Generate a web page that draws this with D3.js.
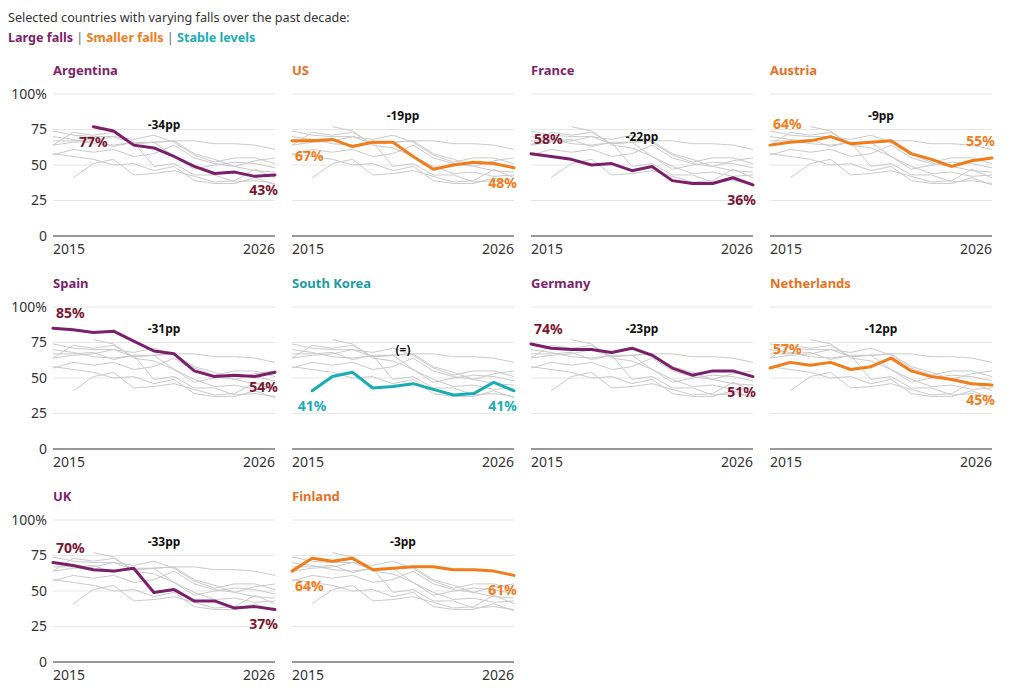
<!DOCTYPE html>
<html>
<head>
<meta charset="utf-8">
<script src="https://cdn.jsdelivr.net/npm/d3@7"></script>
<style>
  body { margin: 0; background: #fff; font-family: "Noto Sans", "Open Sans", sans-serif; }
  svg text { font-family: "Noto Sans", "Open Sans", sans-serif; }
</style>
</head>
<body>
<svg width="1024" height="690"></svg>
<script>
// years on the x axis
var years = [2015, 2016, 2017, 2018, 2019, 2020, 2021, 2022, 2023, 2024, 2025, 2026];

// panels, in reading order
var countries = ["Argentina", "US", "France", "Austria", "Spain", "South Korea", "Germany", "Netherlands", "UK", "Finland"];
var groups    = ["large", "smaller", "large", "smaller", "large", "stable", "large", "smaller", "large", "smaller"];

// share in % per year (null = no data)
var argentina   = [null, null, 77, 74, 64, 62, 56, 49, 44, 45, 42, 43];
var us          = [67, 67, 68, 63, 66, 66, 56, 47, 50, 52, 51, 48];
var france      = [58, 56, 54, 50, 51, 46, 49, 39, 37, 37, 41, 36];
var austria     = [64, 66, 67, 70, 65, 66, 67, 58, 54, 49, 53, 55];
var spain       = [85, 84, 82, 83, 76, 69, 67, 55, 51, 52, 51, 54];
var southKorea  = [null, 41, 51, 54, 43, 44, 46, 42, 38, 39, 47, 41];
var germany     = [74, 71, 70, 70, 68, 71, 66, 57, 52, 55, 55, 51];
var netherlands = [57, 61, 59, 61, 56, 58, 64, 55, 51, 49, 46, 45];
var uk          = [70, 68, 65, 64, 66, 49, 51, 43, 43, 38, 39, 37];
var finland     = [64, 73, 71, 73, 65, 66, 67, 67, 65, 65, 64, 61];

var series = [argentina, us, france, austria, spain, southKorea, germany, netherlands, uk, finland];

// countries drawn as grey context lines (Spain is not among them in the original)
var contextCountries = ["Argentina", "US", "France", "Austria", "South Korea", "Germany", "Netherlands", "UK", "Finland"];

var yTicks = [0, 25, 50, 75, 100];

var colors = {
  large:   { line: "#7b1f6a", label: "#7a1530", title: "#7d1f6b" },
  smaller: { line: "#f07c1a", label: "#f07c1a", title: "#e8701e" },
  stable:  { line: "#1aacb5", label: "#1aacb5", title: "#1a9ba0" }
};

// label placement tweaks (above/below the line end points, height of the pp note)
var startAbove = { "France": 10, "Austria": 16, "Spain": 10, "Germany": 10, "Netherlands": 14, "UK": 10 };
var endAbove = { "Austria": 12 };
var noteLevel = { "Argentina": 78, "France": 70, "South Korea": 70 };

var svg = d3.select("svg");

// header
svg.append("text")
    .attr("x", 8).attr("y", 22)
    .attr("font-size", 12.6).attr("fill", "#333")
    .text("Selected countries with varying falls over the past decade:");

var legend = svg.append("text").attr("x", 8).attr("y", 42).attr("font-size", 12.6);
legend.append("tspan").attr("font-weight", "bold").attr("fill", colors.large.title).text("Large falls");
legend.append("tspan").attr("fill", "#666").text(" | ");
legend.append("tspan").attr("font-weight", "bold").attr("fill", colors.smaller.line).text("Smaller falls");
legend.append("tspan").attr("fill", "#666").text(" | ");
legend.append("tspan").attr("font-weight", "bold").attr("fill", colors.stable.line).text("Stable levels");

var colX = [53, 292, 531, 770],
    rowY = [94, 307, 520],
    pw = 222, ph = 142;

var x = d3.scaleLinear().domain([years[0], years[years.length - 1]]).range([0, pw]);
var y = d3.scaleLinear().domain([0, 100]).range([ph, 0]);

var line = d3.line()
    .defined(function(d) { return d != null; })
    .x(function(d, i) { return x(years[i]); })
    .y(function(d) { return y(d); });

countries.forEach(function(name, k) {
  var col = k % 4, row = Math.floor(k / 4);
  var g = svg.append("g").attr("transform", "translate(" + colX[col] + "," + rowY[row] + ")");
  var c = colors[groups[k]];
  var vals = series[k];

  // gridlines
  g.selectAll(".grid").data(yTicks.slice(1)).enter().append("line")
      .attr("x1", 0).attr("x2", pw)
      .attr("y1", function(d) { return y(d); }).attr("y2", function(d) { return y(d); })
      .attr("stroke", "#e6e6e6").attr("stroke-width", 1);
  g.append("line").attr("x1", 0).attr("x2", pw).attr("y1", y(0)).attr("y2", y(0))
      .attr("stroke", "#333").attr("stroke-width", 1);

  // y labels only in first column
  if (col === 0) {
    g.selectAll(".yl").data(yTicks).enter().append("text")
        .attr("x", -6).attr("y", function(d) { return y(d); })
        .attr("dy", "0.35em").attr("text-anchor", "end")
        .attr("font-size", 14).attr("fill", "#333")
        .text(function(d) { return d === 100 ? "100%" : d; });
  }

  // x labels
  g.append("text").attr("x", x(years[0])).attr("y", ph + 18)
      .attr("font-size", 14).attr("fill", "#333").text(years[0]);
  g.append("text").attr("x", x(years[years.length - 1])).attr("y", ph + 18)
      .attr("text-anchor", "end").attr("font-size", 14).attr("fill", "#333").text(years[years.length - 1]);

  // title
  g.append("text").attr("x", 0).attr("y", -19)
      .attr("font-size", 13).attr("font-weight", "bold").attr("fill", c.title).text(name);

  // grey context lines
  contextCountries.forEach(function(other) {
    var s = series[countries.indexOf(other)];
    g.append("path").attr("d", line(s))
        .attr("fill", "none").attr("stroke", "#cacaca").attr("stroke-width", 1);
  });

  // highlighted line
  g.append("path").attr("d", line(vals))
      .attr("fill", "none").attr("stroke", c.line).attr("stroke-width", 3)
      .attr("stroke-linejoin", "round").attr("stroke-linecap", "round");

  // start / end labels
  var first = vals.findIndex(function(d) { return d != null; });
  var v0 = vals[first], v1 = vals[vals.length - 1];
  var sx = x(years[first]);
  g.append("text")
      .attr("x", first === 0 ? sx + 3 : sx)
      .attr("y", startAbove[name] ? y(v0) - startAbove[name] : y(v0) + 20)
      .attr("text-anchor", first === 0 ? "start" : "middle")
      .attr("font-size", 14).attr("font-weight", "bold").attr("fill", c.label)
      .text(v0 + "%");
  g.append("text")
      .attr("x", pw + 3)
      .attr("y", endAbove[name] ? y(v1) - endAbove[name] : y(v1) + 20)
      .attr("text-anchor", "end")
      .attr("font-size", 14).attr("font-weight", "bold").attr("fill", c.label)
      .text(v1 + "%");

  // change note
  var diff = v1 - v0;
  g.append("text")
      .attr("x", pw / 2).attr("y", y(noteLevel[name] || 85))
      .attr("dy", "0.35em").attr("text-anchor", "middle")
      .attr("font-size", 12).attr("font-weight", "bold").attr("fill", "#111")
      .text(diff === 0 ? "(=)" : diff + "pp");
});
</script>
</body>
</html>
